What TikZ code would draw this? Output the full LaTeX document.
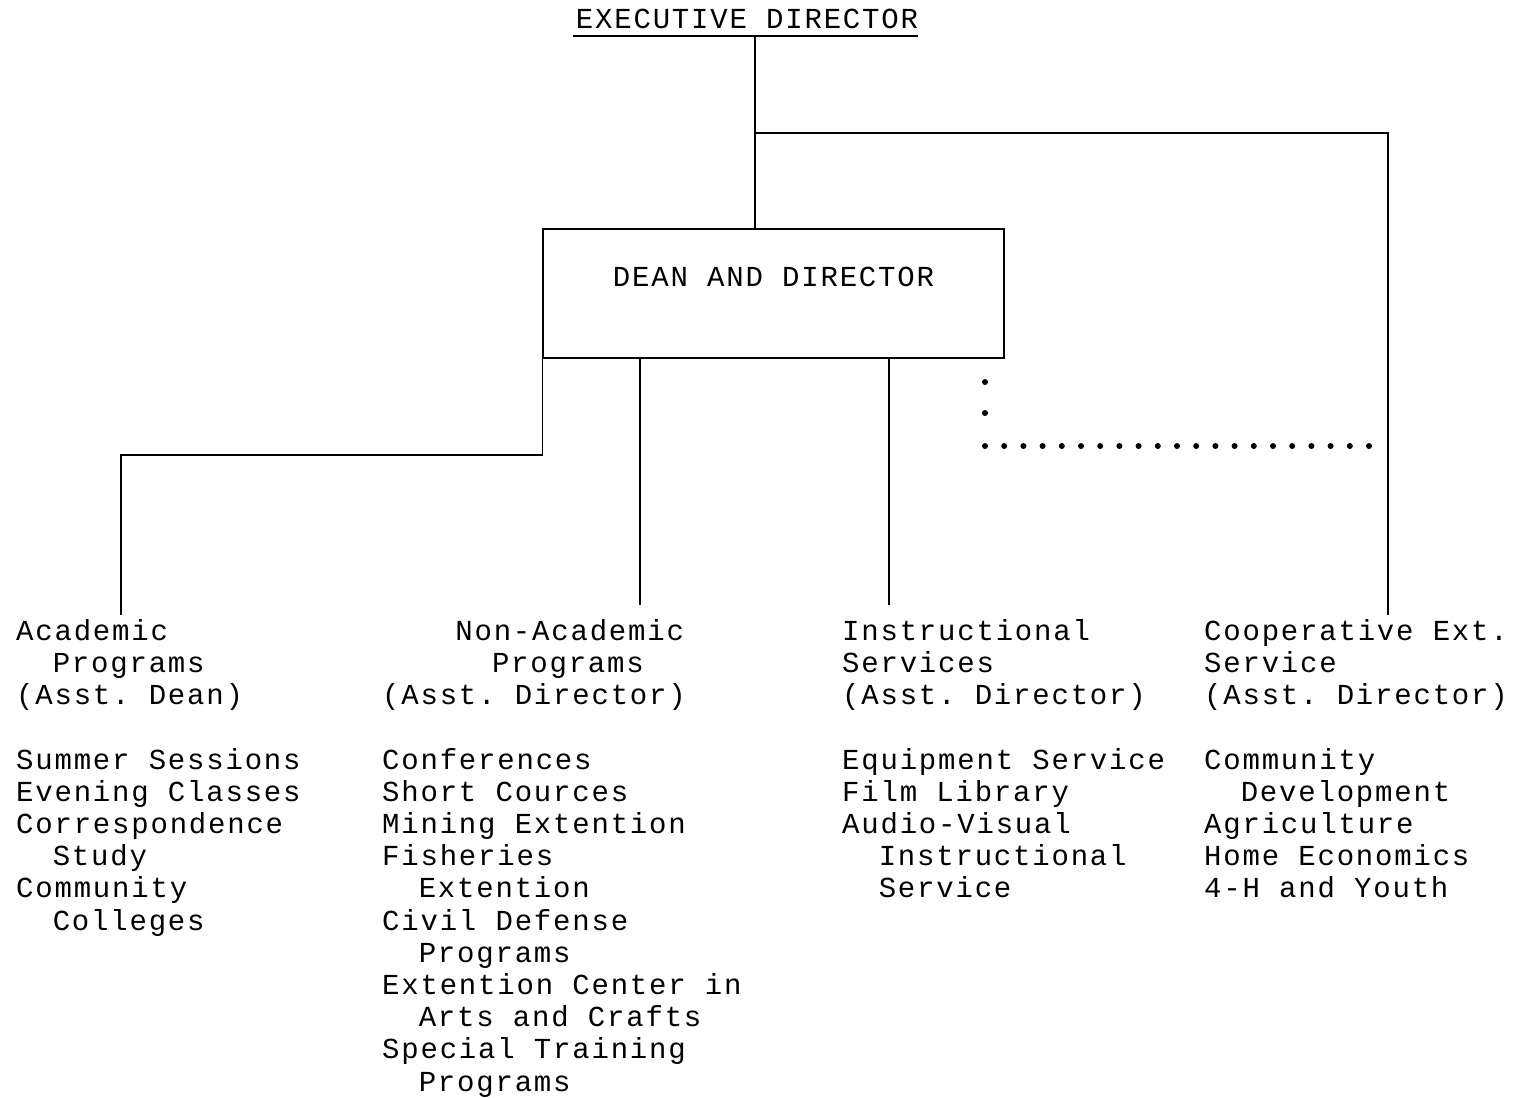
\documentclass[tikz,border=0pt]{standalone}
\usepackage{fontspec}
\setmonofont[LetterSpace=6.2]{Liberation Mono}
\usepackage{tikz}
\newcommand{\Typed}{\ttfamily\fontsize{29}{32.2}\selectfont}
\newcommand{\ind}{\phantom{xx}}
\tikzstyle{Box} = [draw, rectangle, line width=1.4pt, minimum width=461pt, minimum height=129pt, inner sep=0pt, text height=20pt, text depth=35pt, font=\Typed]
\tikzstyle{Title} = [inner sep=0pt, font=\Typed]
\tikzstyle{Column} = [anchor=north west, align=left, inner sep=0pt, font=\Typed]
\tikzstyle{Link} = [line width=1.4pt]

\begin{document}
\begin{tikzpicture}[x=1pt, y=-1pt]
    \useasboundingbox (0,0) rectangle (1516,1098);
    \node[Title, anchor=base] (exec) at (747,28) {EXECUTIVE DIRECTOR};
    \node[Box] (dean) at (773.5,293.5) {DEAN AND DIRECTOR};
    \coordinate (stem) at (755,36);
    \coordinate (acadtop) at (121,615);
    \coordinate (nonacadtop) at (640,605);
    \coordinate (insttop) at (889,605);
    \coordinate (cooptop) at (1388,615);
    % staff units
    \node[Column] (acad) at (16,617.5) {\strut Academic\\ \ind Programs\\ (Asst. Dean)\\[32.2pt]
        Summer Sessions\\ Evening Classes\\ Correspondence\\ \ind Study\\ Community\\ \ind Colleges};
    \node[Column] (nonacad) at (382,617.5) {\strut \ind\ind Non-Academic\\ \ind\ind\ind Programs\\ (Asst. Director)\\[32.2pt]
        Conferences\\ Short Cources\\ Mining Extention\\ Fisheries\\ \ind Extention\\ Civil Defense\\ \ind Programs\\
        Extention Center in\\ \ind Arts and Crafts\\ Special Training\\ \ind Programs};
    \node[Column] (inst) at (842,617.5) {\strut Instructional\\ Services\\ (Asst. Director)\\[32.2pt]
        Equipment Service\\ Film Library\\ Audio-Visual\\ \ind Instructional\\ \ind Service};
    \node[Column] (coop) at (1204,617.5) {\strut Cooperative Ext.\\ Service\\ (Asst. Director)\\[32.2pt]
        Community\\ \ind Development\\ Agriculture\\ Home Economics\\ 4-H and Youth};
    % lines
    \draw[Link] ([xshift=-3pt,yshift=-8pt]exec.base west) -- ([yshift=-8pt]exec.base east);
    \draw[Link] (stem) -- (stem |- dean.north);
    \draw[Link] (stem |- 0,133) -| (cooptop);
    \draw[Link] (dean.south west) -- (dean.south west |- 0,455) -| (acadtop);
    \draw[Link] (nonacadtop |- dean.south) -- (nonacadtop);
    \draw[Link] (insttop |- dean.south) -- (insttop);
    % dotted tie
    \foreach \y in {382,413}
        \fill (985,\y) circle (3pt);
    \foreach \i in {0,...,20}
        \fill (985+19.2*\i,446) circle (3pt);
\end{tikzpicture}
\end{document}
